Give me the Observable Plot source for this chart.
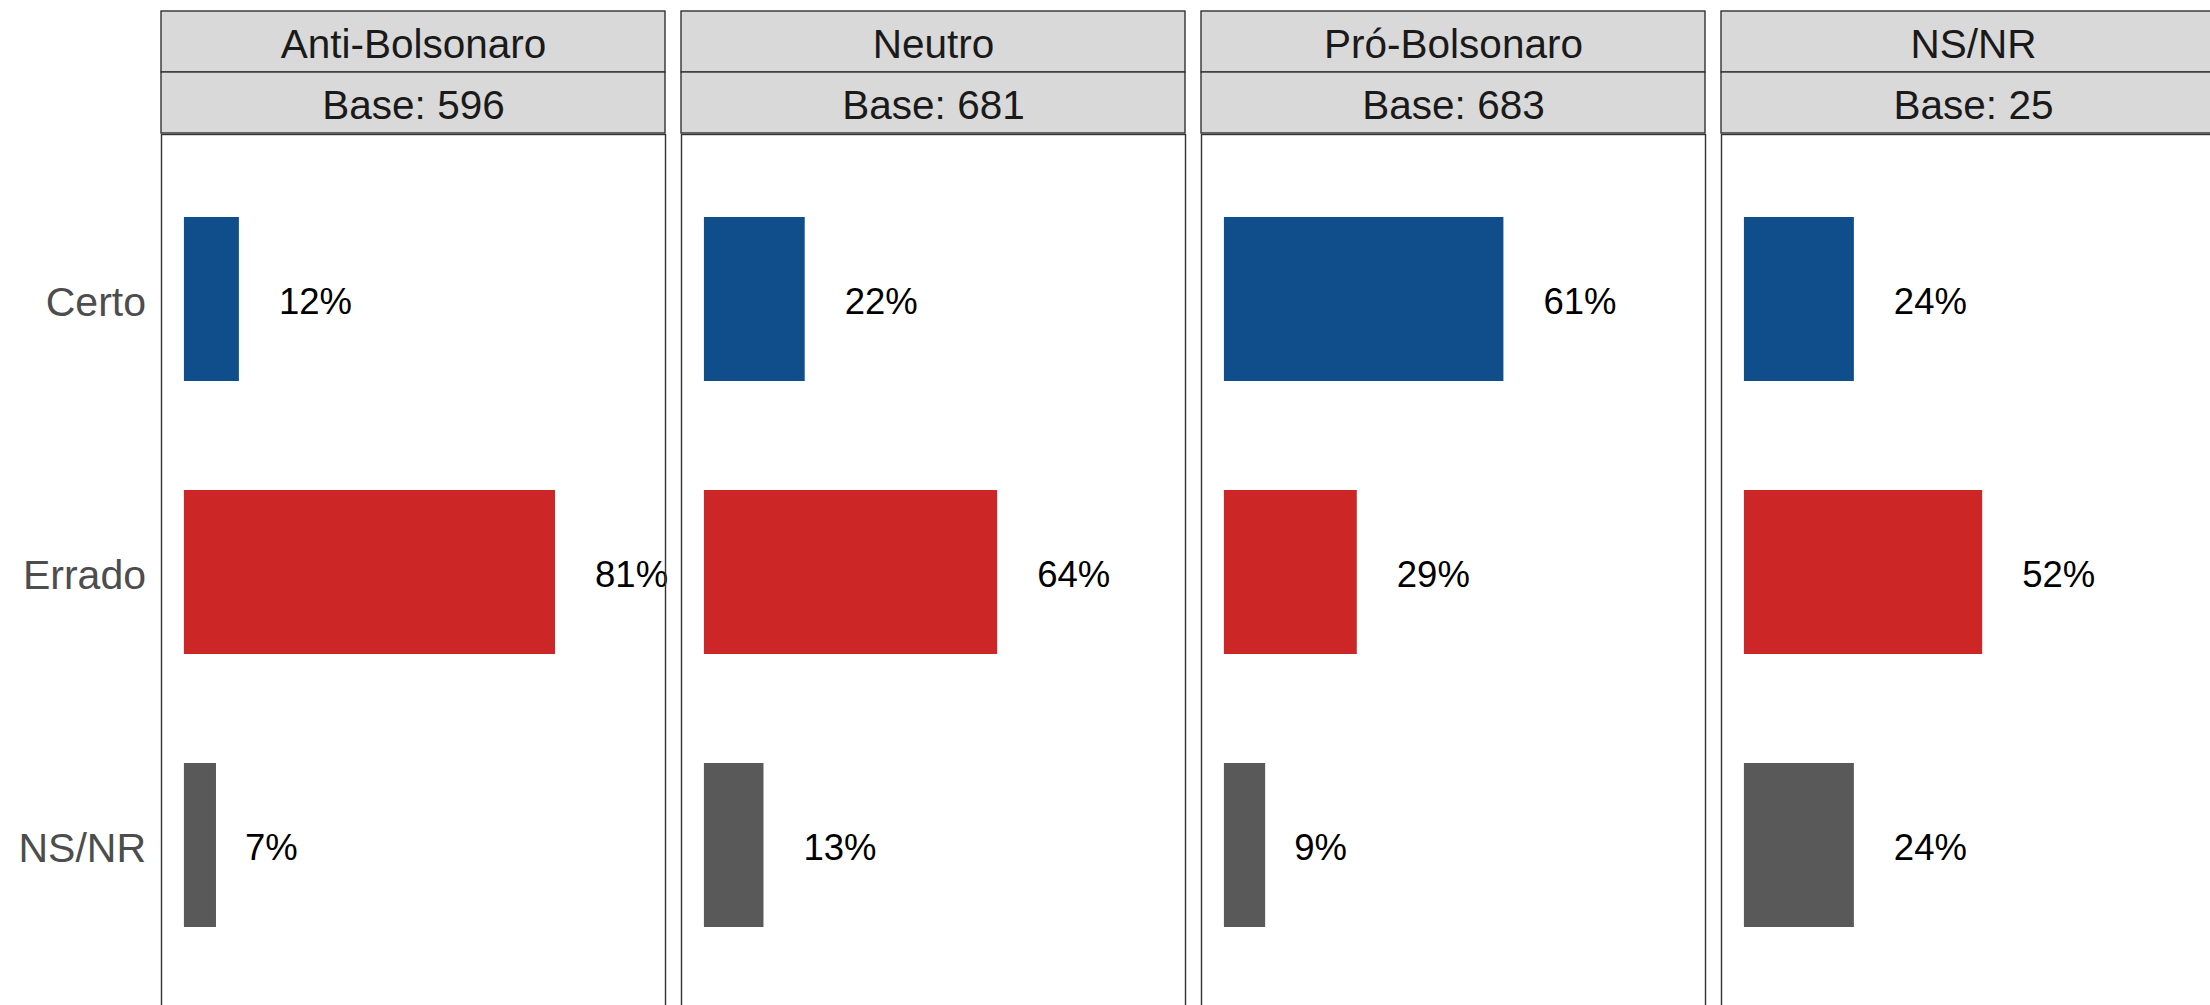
<!DOCTYPE html>
<html><head><meta charset="utf-8">
<script src="https://cdn.jsdelivr.net/npm/d3@7"></script>
<script src="https://cdn.jsdelivr.net/npm/@observablehq/plot@0.6"></script>
<style>
html,body{margin:0;padding:0;background:#fff;overflow:hidden;}
#wrap{position:relative;width:2210px;height:1005px;overflow:hidden;}
#wrap svg{position:absolute;left:0;top:0;max-width:none;}
</style></head><body><div id="wrap"></div>
<script>
const groups = ["Anti-Bolsonaro", "Neutro", "Pró-Bolsonaro", "NS/NR"];
const bases = [596, 681, 683, 25];
const answers = ["Certo", "Errado", "NS/NR"];
const certo = [12, 22, 61, 24];
const errado = [81, 64, 29, 52];
const nsnr = [7, 13, 9, 24];
const colors = ["#104E8B", "#CD2626", "#595959"];

const rows = [];
groups.forEach((g, i) => {
  [certo, errado, nsnr].forEach((s, j) => rows.push({group: g, answer: answers[j], value: s[i]}));
});
const header = [];
groups.forEach((g, i) => {
  header.push({group: g, row: "t", label: g});
  header.push({group: g, row: "b", label: "Base: " + bases[i]});
});

const W = 2227;
const FONT = "'Liberation Sans', Arial, sans-serif";
const fx = {domain: groups, axis: null, paddingInner: 0.0307, paddingOuter: 0};

const main = Plot.plot({
  width: W, height: 1012,
  marginTop: 134, marginLeft: 160, marginRight: 0, marginBottom: 1.2,
  style: {fontFamily: FONT, background: "white", maxWidth: "none"},
  fx,
  x: {domain: [-5, 105], axis: null},
  y: {domain: answers, paddingInner: 0.4, paddingOuter: 0.3, label: null},
  color: {domain: answers, range: colors},
  marks: [
    Plot.barX(rows, {fx: "group", y: "answer", x: "value", fill: "answer", inset: 0}),
    Plot.text(rows, {fx: "group", y: "answer", x: "value", text: d => d.value + "%", textAnchor: "start", fontSize: 36.5, fill: "black", dy: 3}),
    Plot.axisY({tickSize: 0, tickPadding: 15.5, fontSize: 41, fill: "#4D4D4D", label: null, dy: 3}),
    Plot.frame({stroke: "#333", strokeWidth: 1.4})
  ]
});

const head = Plot.plot({
  width: W, height: 136,
  marginTop: 10.5, marginBottom: 2, marginLeft: 160, marginRight: 0,
  style: {fontFamily: FONT, background: "transparent", maxWidth: "none"},
  fx,
  y: {domain: ["t", "b"], padding: 0, axis: null},
  marks: [
    Plot.cell(header, {fx: "group", y: "row", fill: "#D9D9D9", stroke: "#333", strokeWidth: 1.4, inset: 0}),
    Plot.text(header, {fx: "group", y: "row", text: "label", fontSize: 40.5, fill: "#1A1A1A", dy: 3})
  ]
});

const wrap = document.getElementById("wrap");
wrap.append(main);
wrap.append(head);
main.querySelectorAll('g[aria-label="text"] text').forEach(t => {
  const w = t.getComputedTextLength();
  t.setAttribute("dx", (0.54 * w).toFixed(1));
});
</script></body></html>
